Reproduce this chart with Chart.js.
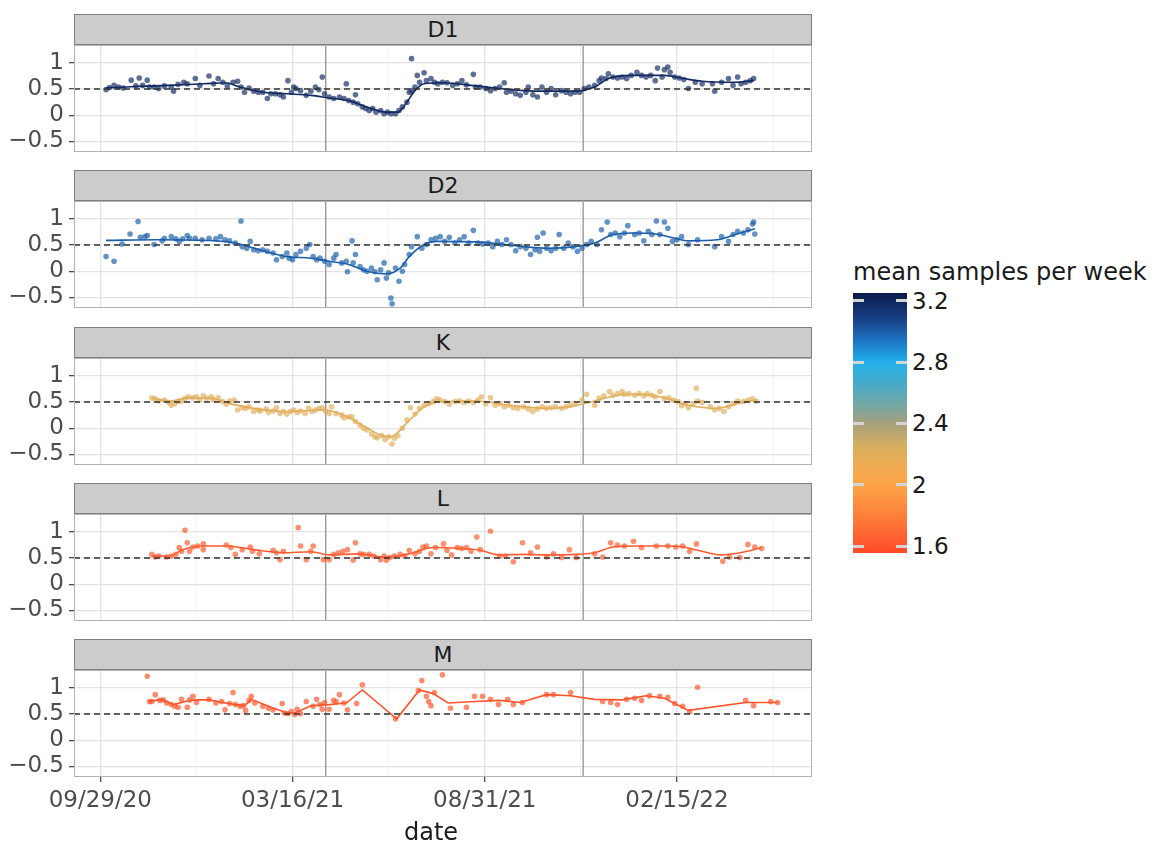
<!DOCTYPE html>
<html>
<head>
<meta charset="utf-8">
<script src="https://cdn.jsdelivr.net/npm/chart.js@4.4.0/dist/chart.umd.min.js"></script>
<style>
  body { margin: 0; background: #fff; width: 1160px; height: 846px; position: relative; overflow: hidden;
         font-family: "DejaVu Sans", sans-serif; }
  canvas { position: absolute; left: 0; }
  .strip { position: absolute; left: 74px; width: 738px; height: 31px; box-sizing: border-box;
           background: #cccccc; border: 1px solid #7f7f7f; color: #1a1a1a; font-size: 22px;
           line-height: 29px; text-align: center; }
  .lbl { position: absolute; color: #1a1a1a; white-space: nowrap; }
</style>
</head>
<body>
<div id="root"></div>
<script>
/* Five facet panels: points plus a smoothed line per site, coloured by mean samples per week. */

var startDate = [2020, 8, 29];          // day 0 = 09/29/20
var panelNames = ['D1', 'D2', 'K', 'L', 'M'];
var panelMeans = [3.18, 3.0, 2.2, 1.63, 1.6];
var eventDays = [197, 422];
var refLevel = 0.5;
var xRange = [-23, 622];
var yRange = [-0.70, 1.34];
var xTickDays = [0, 84, 168, 252, 336, 420, 504, 588];
var xMajorDays = [0, 168, 336, 504];
var yTickVals = [-0.5, -0.25, 0, 0.25, 0.5, 0.75, 1, 1.25];
var yMajorVals = [-0.5, 0, 0.5, 1];

var legendTicks = [1.6, 2.0, 2.4, 2.8, 3.2];
var legendRange = [1.555, 3.25];
var legendStopVals = [1.555, 1.7, 1.85, 2.0, 2.1, 2.25, 2.4, 2.5, 2.65, 2.8, 2.95, 3.1, 3.25];
var legendStopCols = ['#ff4a28', '#fe6a33', '#fd8a3e', '#fca447', '#f4ab50', '#d7af60', '#a6a07c',
                      '#7ca69f', '#48aac6', '#22b1ea', '#1d6fbf', '#163b7d', '#0c1a4b'];

var d1Points = [[5,0.49],[8,0.53],[12,0.57],[16,0.54],[20,0.52],[27,0.67],[31,0.56],[34,0.71],[37,0.57],[41,0.67],
  [43,0.54],[47,0.54],[51,0.51],[56,0.56],[62,0.54],[64,0.46],[68,0.59],[73,0.63],[76,0.60],[83,0.70],[87,0.57],
  [95,0.75],[99,0.60],[103,0.70],[107,0.63],[111,0.56],[116,0.63],[120,0.65],[123,0.54],[126,0.44],[130,0.52],
  [134,0.46],[138,0.44],[142,0.44],[146,0.32],[149,0.41],[153,0.41],[157,0.39],[160,0.35],[164,0.66],[167,0.44],
  [169,0.54],[171,0.51],[175,0.47],[180,0.38],[184,0.46],[188,0.54],[191,0.49],[194,0.73],[196,0.41],[200,0.35],
  [204,0.32],[209,0.35],[213,0.32],[215,0.60],[217,0.28],[221,0.25],[223,0.39],[225,0.22],[229,0.16],[232,0.13],
  [235,0.09],[238,0.13],[241,0.06],[245,0.09],[248,0.03],[251,0.06],[254,0.03],[258,0.03],[261,0.09],[264,0.16],
  [268,0.25],[270,0.44],[272,1.08],[272,0.47],[275,0.54],[277,0.76],[279,0.63],[283,0.81],[285,0.66],[289,0.70],
  [292,0.63],[295,0.60],[299,0.63],[303,0.62],[308,0.57],[312,0.60],[316,0.66],[320,0.58],[326,0.78],[328,0.54],
  [332,0.54],[337,0.51],[341,0.47],[345,0.51],[349,0.54],[353,0.62],[355,0.44],[359,0.46],[363,0.41],[367,0.38],
  [372,0.44],[374,0.54],[378,0.39],[382,0.35],[386,0.54],[390,0.44],[394,0.51],[398,0.39],[403,0.47],[407,0.44],
  [411,0.41],[415,0.44],[419,0.44],[423,0.51],[427,0.54],[432,0.57],[436,0.66],[438,0.71],[442,0.70],[444,0.79],
  [448,0.73],[452,0.71],[456,0.73],[460,0.70],[464,0.76],[469,0.82],[473,0.76],[477,0.73],[481,0.76],[485,0.66],
  [487,0.90],[491,0.73],[493,0.87],[496,0.92],[498,0.82],[502,0.73],[506,0.71],[510,0.68],[514,0.51],[520,0.63],
  [526,0.60],[535,0.60],[537,0.46],[543,0.63],[549,0.70],[553,0.57],[557,0.73],[560,0.60],[564,0.63],[568,0.66],
  [571,0.70]];
var d1Smooth = [[5,0.52],[30,0.55],[60,0.57],[90,0.60],[109,0.62],[122,0.54],[142,0.44],[163,0.41],[184,0.38],
  [200,0.33],[217,0.28],[233,0.16],[250,0.06],[260,0.06],[266,0.19],[275,0.47],[283,0.60],[299,0.62],[328,0.56],
  [370,0.47],[390,0.46],[415,0.46],[432,0.54],[444,0.70],[464,0.76],[493,0.76],[510,0.70],[526,0.65],[555,0.63],
  [571,0.66]];

var d2Points = [[5,0.28],[12,0.19],[19,0.52],[26,0.71],[33,0.95],[35,0.65],[39,0.66],[41,0.68],[47,0.51],[54,0.58],
  [56,0.63],[62,0.66],[66,0.62],[69,0.57],[72,0.62],[76,0.68],[78,0.63],[83,0.63],[89,0.60],[95,0.63],[101,0.62],
  [105,0.66],[109,0.60],[113,0.58],[118,0.54],[123,0.96],[124,0.47],[128,0.44],[131,0.57],[134,0.41],[138,0.39],
  [142,0.41],[146,0.38],[151,0.35],[154,0.22],[159,0.28],[163,0.35],[165,0.25],[168,0.22],[171,0.32],[175,0.38],
  [180,0.44],[183,0.51],[186,0.28],[189,0.22],[192,0.25],[196,0.19],[200,0.13],[204,0.25],[206,0.32],[211,0.16],
  [215,0.19],[216,-0.01],[220,0.58],[221,0.16],[223,0.32],[227,0.09],[230,0.03],[233,0.00],[237,0.06],[240,-0.01],
  [242,-0.16],[245,0.03],[248,0.16],[250,-0.13],[252,-0.03],[254,-0.51],[255,-0.62],[258,0.06],[261,-0.19],
  [264,0.00],[266,0.13],[270,0.32],[272,0.47],[277,0.66],[281,0.44],[285,0.51],[289,0.60],[293,0.63],[297,0.66],
  [301,0.57],[305,0.65],[310,0.54],[314,0.60],[318,0.66],[322,0.54],[326,0.78],[330,0.54],[334,0.52],[339,0.54],
  [343,0.47],[347,0.57],[351,0.51],[355,0.60],[359,0.51],[363,0.39],[367,0.47],[372,0.44],[376,0.32],[380,0.41],
  [382,0.65],[384,0.38],[387,0.73],[390,0.44],[394,0.39],[398,0.44],[401,0.70],[405,0.44],[409,0.54],[413,0.47],
  [417,0.38],[421,0.44],[425,0.51],[429,0.57],[434,0.51],[438,0.79],[443,0.94],[446,0.70],[450,0.73],[454,0.66],
  [458,0.73],[461,0.87],[467,0.70],[471,0.73],[475,0.58],[479,0.76],[482,0.70],[486,0.96],[489,0.70],[493,0.94],
  [496,0.82],[500,0.57],[504,0.60],[508,0.66],[514,0.51],[522,0.60],[537,0.47],[543,0.66],[549,0.57],[553,0.70],
  [557,0.76],[562,0.73],[566,0.79],[570,0.90],[571,0.94],[572,0.71]];
var d2Smooth = [[5,0.59],[50,0.60],[101,0.58],[118,0.54],[142,0.39],[163,0.28],[184,0.25],[200,0.19],[217,0.13],
  [233,0.00],[250,-0.05],[262,0.06],[270,0.28],[283,0.51],[295,0.57],[328,0.56],[370,0.47],[390,0.44],[415,0.47],
  [432,0.54],[448,0.70],[464,0.73],[485,0.71],[502,0.63],[514,0.58],[539,0.60],[555,0.70],[572,0.81]];

var kPoints = [[45,0.58],[48,0.56],[51,0.52],[56,0.54],[60,0.49],[62,0.44],[65,0.47],[68,0.51],[71,0.52],[74,0.57],
  [77,0.60],[81,0.58],[84,0.60],[87,0.54],[90,0.62],[93,0.57],[97,0.60],[99,0.54],[103,0.58],[107,0.51],[110,0.46],
  [113,0.52],[117,0.54],[120,0.35],[124,0.39],[127,0.38],[130,0.41],[134,0.32],[138,0.35],[140,0.33],[145,0.37],
  [147,0.30],[151,0.33],[154,0.39],[157,0.28],[160,0.32],[163,0.27],[166,0.32],[169,0.35],[172,0.30],[175,0.33],
  [179,0.28],[182,0.38],[185,0.32],[188,0.35],[191,0.38],[194,0.39],[197,0.32],[200,0.28],[202,0.41],[206,0.28],
  [211,0.25],[213,0.20],[217,0.22],[220,0.22],[223,0.13],[227,0.06],[230,0.00],[233,-0.03],[237,-0.11],[240,-0.16],
  [242,-0.18],[246,-0.14],[249,-0.22],[252,-0.16],[255,-0.30],[257,-0.19],[260,-0.14],[264,0.00],[268,0.16],
  [271,0.39],[275,0.27],[279,0.38],[283,0.44],[287,0.47],[291,0.51],[294,0.56],[297,0.54],[301,0.51],[305,0.46],
  [310,0.51],[314,0.52],[318,0.49],[322,0.52],[326,0.49],[330,0.54],[333,0.60],[337,0.47],[341,0.58],[345,0.44],
  [349,0.47],[353,0.41],[357,0.44],[361,0.39],[365,0.38],[370,0.41],[374,0.37],[378,0.32],[382,0.37],[386,0.41],
  [390,0.38],[394,0.39],[398,0.41],[403,0.38],[407,0.41],[411,0.44],[415,0.47],[421,0.54],[425,0.65],[432,0.44],
  [436,0.57],[440,0.62],[445,0.70],[448,0.63],[452,0.66],[456,0.70],[458,0.65],[462,0.66],[467,0.63],[471,0.66],
  [475,0.62],[478,0.66],[482,0.63],[485,0.60],[489,0.70],[493,0.57],[497,0.58],[501,0.54],[505,0.51],[508,0.43],
  [511,0.47],[514,0.39],[518,0.47],[521,0.76],[522,0.52],[526,0.49],[533,0.41],[537,0.35],[541,0.38],[545,0.32],
  [549,0.41],[553,0.47],[557,0.52],[562,0.51],[566,0.54],[570,0.56],[573,0.52]];
var kSmooth = [[45,0.58],[60,0.52],[76,0.58],[97,0.57],[113,0.47],[134,0.38],[163,0.32],[196,0.35],[213,0.25],
  [229,0.06],[246,-0.14],[254,-0.16],[266,0.06],[283,0.41],[299,0.51],[328,0.52],[357,0.44],[390,0.38],[415,0.43],
  [432,0.52],[452,0.63],[473,0.65],[493,0.58],[514,0.44],[539,0.38],[555,0.46],[573,0.54]];

var lPoints = [[45,0.57],[48,0.52],[51,0.54],[58,0.52],[62,0.54],[66,0.57],[69,0.70],[71,0.63],[74,1.03],[76,0.79],
  [78,0.63],[81,0.71],[85,0.73],[90,0.77],[90,0.66],[110,0.75],[114,0.70],[118,0.57],[124,0.66],[131,0.71],
  [133,0.63],[139,0.58],[151,0.65],[154,0.60],[157,0.47],[160,0.63],[173,1.08],[175,0.73],[180,0.47],[184,0.63],
  [186,0.73],[195,0.47],[200,0.47],[204,0.57],[208,0.60],[212,0.63],[216,0.66],[221,0.46],[223,0.79],[227,0.58],
  [230,0.57],[235,0.57],[239,0.54],[245,0.47],[248,0.54],[250,0.46],[253,0.51],[257,0.54],[262,0.57],[266,0.54],
  [270,0.65],[275,0.58],[279,0.63],[282,0.71],[285,0.73],[289,0.58],[293,0.70],[300,0.77],[303,0.65],[307,0.56],
  [312,0.70],[316,0.68],[320,0.70],[324,0.63],[329,0.90],[332,0.66],[341,1.01],[349,0.54],[354,0.54],[361,0.43],
  [369,0.79],[376,0.60],[382,0.71],[390,0.52],[396,0.58],[403,0.51],[410,0.66],[416,0.51],[432,0.58],[439,0.52],
  [446,0.79],[452,0.75],[458,0.73],[466,0.82],[473,0.70],[486,0.73],[496,0.73],[503,0.71],[509,0.73],[515,0.63],
  [521,0.77],[544,0.44],[550,0.52],[559,0.51],[566,0.76],[572,0.71],[578,0.68]];
var lSmooth = [[45,0.54],[60,0.54],[72,0.66],[89,0.73],[110,0.73],[134,0.66],[159,0.60],[184,0.62],[200,0.56],
  [225,0.58],[250,0.52],[270,0.58],[291,0.70],[316,0.68],[332,0.65],[349,0.56],[370,0.57],[390,0.56],[415,0.57],
  [432,0.60],[448,0.71],[469,0.73],[493,0.73],[510,0.71],[522,0.65],[543,0.56],[559,0.60],[578,0.70]];

var mPoints = [[41,1.22],[43,0.74],[45,0.74],[48,0.87],[52,0.76],[55,0.77],[58,0.71],[62,0.68],[65,0.65],[68,0.63],
  [71,0.78],[76,0.63],[78,0.77],[81,0.84],[84,0.72],[95,0.78],[101,0.71],[106,0.74],[109,0.58],[113,0.70],[116,0.91],
  [118,0.68],[122,0.65],[125,0.66],[127,0.57],[130,0.76],[132,0.84],[135,0.71],[142,0.65],[147,0.61],[151,0.58],
  [159,0.70],[161,0.52],[164,0.51],[167,0.55],[170,0.49],[172,0.59],[175,0.51],[180,0.74],[186,0.65],[189,0.78],
  [192,0.68],[194,0.59],[196,0.72],[200,0.59],[204,0.76],[206,0.74],[209,0.87],[213,0.71],[216,0.58],[224,0.70],
  [229,1.06],[258,0.41],[278,0.95],[281,1.14],[285,0.84],[287,0.74],[289,0.66],[292,0.91],[299,1.25],[306,0.61],
  [320,0.63],[327,0.84],[334,0.84],[341,0.78],[348,0.68],[356,0.78],[361,0.68],[369,0.72],[390,0.87],[396,0.87],
  [411,0.91],[439,0.74],[446,0.72],[452,0.68],[460,0.78],[467,0.80],[473,0.76],[480,0.85],[489,0.84],[496,0.82],
  [502,0.70],[509,0.65],[515,0.55],[522,1.01],[564,0.76],[571,0.66],[586,0.74],[592,0.72]];
var mSmooth = [[42,0.74],[54,0.78],[64,0.68],[74,0.74],[83,0.77],[95,0.77],[107,0.72],[118,0.68],[126,0.66],
  [132,0.78],[147,0.65],[163,0.52],[171,0.53],[184,0.66],[200,0.68],[215,0.71],[229,0.96],[259,0.41],[279,0.96],
  [291,0.89],[304,0.71],[328,0.74],[349,0.76],[367,0.72],[390,0.87],[411,0.85],[432,0.78],[456,0.77],[477,0.85],
  [493,0.80],[514,0.57],[564,0.72],[592,0.72]];

var panelPoints = [d1Points, d2Points, kPoints, lPoints, mPoints];
var panelSmooth = [d1Smooth, d2Smooth, kSmooth, lSmooth, mSmooth];
var panelCurve = ['monotone', 'monotone', 'monotone', 'monotone', 'default'];

// layout
var plotTops = [45, 201, 358, 514, 670];
var plotH = 107;
var FONT = '"DejaVu Sans", sans-serif';

function hexRgb(h) {
  return [1, 3, 5].map(function (i) { return parseInt(h.substr(i, 2), 16); });
}

function colourAt(v) {
  var n = legendStopVals.length;
  if (v <= legendStopVals[0]) return hexRgb(legendStopCols[0]);
  for (var i = 1; i < n; i++) {
    if (v <= legendStopVals[i]) {
      var t = (v - legendStopVals[i - 1]) / (legendStopVals[i] - legendStopVals[i - 1]);
      var a = hexRgb(legendStopCols[i - 1]), b = hexRgb(legendStopCols[i]);
      return a.map(function (c, k) { return Math.round(c + (b[k] - c) * t); });
    }
  }
  return hexRgb(legendStopCols[n - 1]);
}

function rgba(c, a) { return 'rgba(' + c[0] + ',' + c[1] + ',' + c[2] + ',' + a + ')'; }

function fmtDay(day) {
  var d = new Date(Date.UTC(startDate[0], startDate[1], startDate[2] + day));
  var mm = String(d.getUTCMonth() + 1).padStart(2, '0');
  var dd = String(d.getUTCDate()).padStart(2, '0');
  var yy = String(d.getUTCFullYear()).slice(2);
  return mm + '/' + dd + '/' + yy;
}

function toXY(arr) { return arr.map(function (p) { return { x: p[0], y: p[1] }; }); }

var panelBorder = {
  id: 'panelBorder',
  afterDatasetsDraw: function (chart) {
    var a = chart.chartArea, ctx = chart.ctx;
    ctx.save();
    ctx.strokeStyle = '#b3b3b3';
    ctx.lineWidth = 1;
    ctx.strokeRect(a.left + 0.5, a.top + 0.5, a.right - a.left - 1, a.bottom - a.top - 1);
    ctx.restore();
  }
};

var root = document.getElementById('root');

panelNames.forEach(function (name, i) {
  var isBottom = i === panelNames.length - 1;
  var col = colourAt(panelMeans[i]);

  var strip = document.createElement('div');
  strip.className = 'strip';
  strip.style.top = (plotTops[i] - 31) + 'px';
  strip.textContent = name;
  root.appendChild(strip);

  var padTop = 14;
  var axisH = isBottom ? 58 : 0;
  var canvas = document.createElement('canvas');
  canvas.width = 830;
  canvas.height = padTop + plotH + (isBottom ? axisH : 14);
  canvas.style.top = (plotTops[i] - padTop) + 'px';
  root.appendChild(canvas);

  var datasets = [];
  eventDays.forEach(function (d) {
    datasets.push({
      data: [{ x: d, y: yRange[0] }, { x: d, y: yRange[1] }],
      showLine: true, borderColor: '#8a8a8a', borderWidth: 1.2, pointRadius: 0, order: 4
    });
  });
  datasets.push({
    data: toXY(panelPoints[i]),
    pointRadius: 2.8, pointBorderWidth: 0,
    pointBackgroundColor: rgba(col, 0.68), order: 3
  });
  datasets.push({
    data: toXY(panelSmooth[i]),
    showLine: true, borderColor: rgba(col, 1), borderWidth: 1.6, pointRadius: 0,
    cubicInterpolationMode: panelCurve[i], tension: 0, order: 2
  });
  datasets.push({
    data: [{ x: xRange[0], y: refLevel }, { x: xRange[1], y: refLevel }],
    showLine: true, borderColor: '#333333', borderWidth: 1.5, borderDash: [6, 4], pointRadius: 0, order: 1
  });

  new Chart(canvas, {
    type: 'scatter',
    data: { datasets: datasets },
    options: {
      responsive: false,
      animation: false,
      devicePixelRatio: 1,
      layout: { padding: { top: padTop, bottom: isBottom ? 0 : 14, left: 0, right: 18 } },
      plugins: { legend: { display: false }, tooltip: { enabled: false } },
      scales: {
        x: {
          type: 'linear', min: xRange[0], max: xRange[1],
          afterBuildTicks: function (s) { s.ticks = xTickDays.map(function (v) { return { value: v }; }); },
          afterFit: function (s) { s.height = axisH; s.paddingLeft = 0; s.paddingRight = 0; },
          border: { display: false },
          grid: {
            color: function (c) { return xMajorDays.indexOf(c.tick.value) >= 0 ? '#e3e3e3' : '#f1f1f1'; },
            lineWidth: function (c) { return xMajorDays.indexOf(c.tick.value) >= 0 ? 1.3 : 0.8; },
            drawTicks: isBottom, tickLength: 5,
            tickColor: function (c) { return xMajorDays.indexOf(c.tick.value) >= 0 ? '#4d4d4d' : 'rgba(0,0,0,0)'; }
          },
          ticks: {
            display: isBottom, autoSkip: false, maxRotation: 0, padding: 5,
            color: '#4d4d4d', font: { size: 23, family: FONT },
            callback: function (v) { return xMajorDays.indexOf(v) >= 0 ? fmtDay(v) : ''; }
          }
        },
        y: {
          type: 'linear', min: yRange[0], max: yRange[1],
          afterBuildTicks: function (s) { s.ticks = yTickVals.map(function (v) { return { value: v }; }); },
          afterFit: function (s) { s.width = 74; s.paddingTop = 0; s.paddingBottom = 0; },
          border: { display: false },
          grid: {
            color: function (c) { return yMajorVals.indexOf(c.tick.value) >= 0 ? '#e3e3e3' : '#f1f1f1'; },
            lineWidth: function (c) { return yMajorVals.indexOf(c.tick.value) >= 0 ? 1.3 : 0.8; },
            tickLength: 5,
            tickColor: function (c) { return yMajorVals.indexOf(c.tick.value) >= 0 ? '#4d4d4d' : 'rgba(0,0,0,0)'; }
          },
          ticks: {
            padding: 5, color: '#4d4d4d', font: { size: 23, family: FONT },
            callback: function (v) {
              if (yMajorVals.indexOf(v) < 0) return '';
              return v < 0 ? '\u2212' + Math.abs(v) : String(v);
            }
          }
        }
      }
    },
    plugins: [panelBorder]
  });
});

// axis title
var xTitle = document.createElement('div');
xTitle.className = 'lbl';
xTitle.style.cssText = 'left:331px;width:200px;text-align:center;top:818px;font-size:24px;';
xTitle.textContent = 'date';
root.appendChild(xTitle);

// colour legend
var barTop = 293, barH = 260, barLeft = 853, barW = 54;
function legendY(v) { return barTop + (legendRange[1] - v) / (legendRange[1] - legendRange[0]) * barH; }

var lt = document.createElement('div');
lt.className = 'lbl';
lt.style.cssText = 'left:853px;top:258px;font-size:24px;';
lt.textContent = 'mean samples per week';
root.appendChild(lt);

var stops = legendStopVals.map(function (v, k) {
  var pct = (v - legendRange[0]) / (legendRange[1] - legendRange[0]) * 100;
  return legendStopCols[k] + ' ' + pct.toFixed(2) + '%';
});
var bar = document.createElement('div');
bar.style.cssText = 'position:absolute;left:' + barLeft + 'px;top:' + barTop + 'px;width:' + barW +
  'px;height:' + barH + 'px;background:linear-gradient(to top,' + stops.join(',') + ');';
root.appendChild(bar);

legendTicks.forEach(function (v) {
  var y = legendY(v);
  [barLeft, barLeft + barW - 11].forEach(function (x) {
    var t = document.createElement('div');
    t.style.cssText = 'position:absolute;left:' + x + 'px;top:' + (y - 1.5) + 'px;width:11px;height:3px;background:#d4d4d4;';
    root.appendChild(t);
  });
  var lab = document.createElement('div');
  lab.className = 'lbl';
  lab.style.cssText = 'left:912px;top:' + (y - 14) + 'px;font-size:23px;line-height:28px;';
  lab.textContent = String(v);
  root.appendChild(lab);
});
</script>
</body>
</html>
